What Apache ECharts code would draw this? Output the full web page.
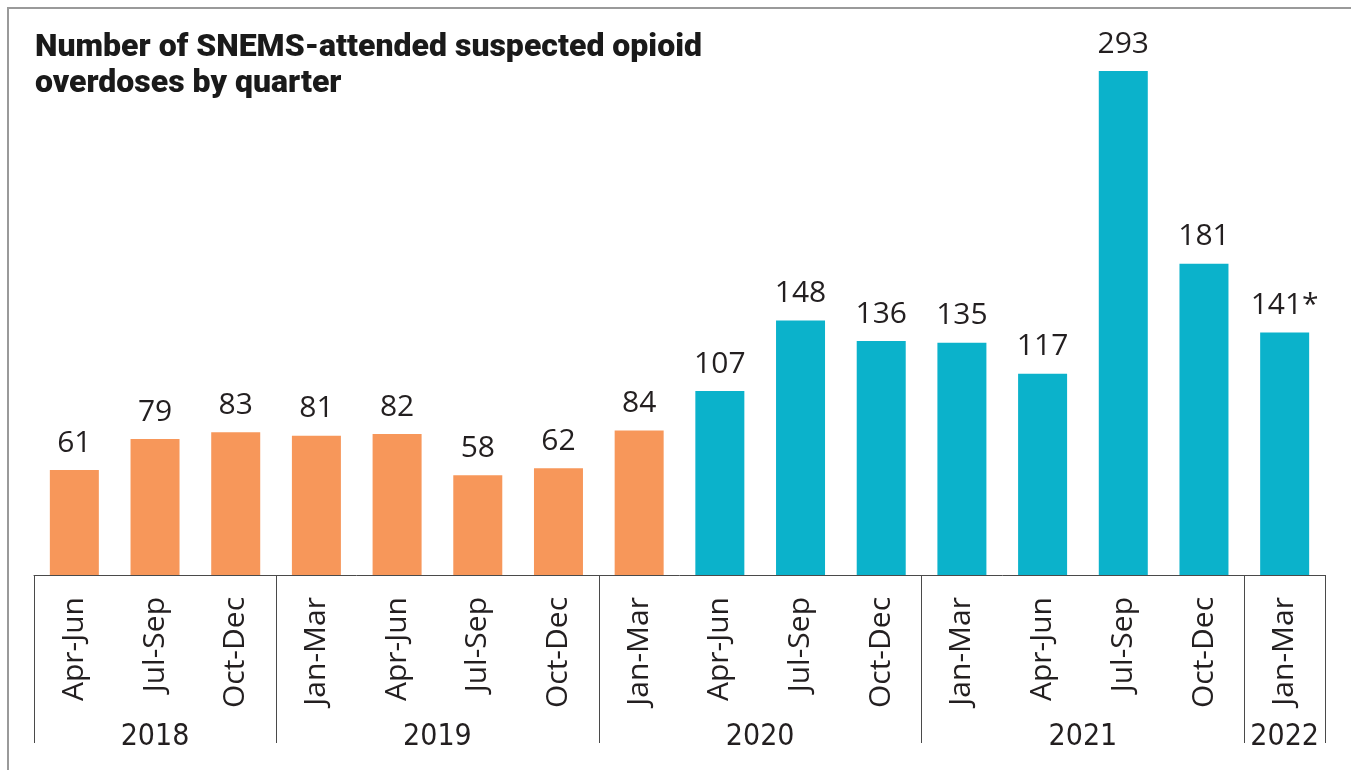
<!DOCTYPE html>
<html>
<head>
<meta charset="utf-8">
<title>SNEMS-attended suspected opioid overdoses</title>
<script src="https://cdn.jsdelivr.net/npm/echarts@6/dist/echarts.min.js"></script>
<style>
  html, body { margin: 0; padding: 0; background: #ffffff; }
  #chart { width: 1351px; height: 770px; }
</style>
</head>
<body>
<div id="chart"></div>
<script>
// Quarterly counts, April 2018 to March 2022
const quarters = ['Apr-Jun', 'Jul-Sep', 'Oct-Dec',
  'Jan-Mar', 'Apr-Jun', 'Jul-Sep', 'Oct-Dec',
  'Jan-Mar', 'Apr-Jun', 'Jul-Sep', 'Oct-Dec',
  'Jan-Mar', 'Apr-Jun', 'Jul-Sep', 'Oct-Dec',
  'Jan-Mar'];
const overdoses = [61, 79, 83, 81, 82, 58, 62, 84, 107, 148, 136, 135, 117, 293, 181, 141];
const valueNotes = ['', '', '', '', '', '', '', '', '', '', '', '', '', '', '', '*'];
// Quarters shown in the second colour (from Apr-Jun 2020 on)
const laterPeriodStart = 8;

// Year bands under the quarter labels: name and number of quarters in each
const years = ['2018', '2019', '2020', '2021', '2022'];
const quartersPerYear = [3, 4, 4, 4, 1];

const ORANGE = '#F7975A';
const TEAL = '#0BB2CB';
const TEXT = '#231F20';
const RULE = '#4a4a4a';

// Boundaries between year bands and the centre of each band, in quarter units
const yearEdges = [0];
quartersPerYear.forEach(n => yearEdges.push(yearEdges[yearEdges.length - 1] + n));
const yearCentres = years.map((y, i) => (yearEdges[i] + yearEdges[i + 1]) / 2);

const chart = echarts.init(document.getElementById('chart'));

chart.setOption({
  animation: false,
  backgroundColor: '#ffffff',
  title: {
    text: 'Number of SNEMS-attended suspected opioid\noverdoses by quarter',
    left: 30,
    top: 25,
    textStyle: {
      fontFamily: 'Roboto',
      fontWeight: 900,
      fontSize: 32,
      lineHeight: 36,
      color: '#1a1a1a'
    }
  },
  graphic: [{
    type: 'polyline',
    shape: { points: [[8, 770], [8, 8], [1351, 8]] },
    style: { stroke: '#9a9a9a', lineWidth: 2, fill: null },
    silent: true
  }],
  grid: { left: 34, right: 26, top: 59, bottom: 195 },
  xAxis: [{
    type: 'category',
    data: quarters,
    boundaryGap: true,
    axisLine: { show: true, lineStyle: { color: RULE, width: 1 } },
    axisTick: { show: false },
    axisLabel: {
      rotate: 90,
      margin: 22,
      fontFamily: 'Open Sans',
      fontSize: 30,
      color: TEXT,
      interval: 0
    }
  }, {
    type: 'value',
    min: 0,
    max: quarters.length,
    position: 'bottom',
    axisLine: { show: false },
    splitLine: { show: false },
    axisTick: {
      show: true,
      customValues: yearEdges,
      length: 168,
      lineStyle: { color: RULE, width: 1 }
    },
    axisLabel: {
      customValues: yearCentres,
      formatter: v => years[yearCentres.indexOf(v)],
      margin: 147,
      fontFamily: "'Liberation Sans Narrow', 'DejaVu Sans Condensed', sans-serif",
      fontSize: 30,
      color: TEXT
    }
  }],
  yAxis: {
    type: 'value',
    min: 0,
    max: 300,
    show: false
  },
  series: [{
    type: 'bar',
    xAxisIndex: 0,
    barWidth: 49,
    data: overdoses.map((v, i) => ({
      value: v,
      itemStyle: { color: i < laterPeriodStart ? ORANGE : TEAL }
    })),
    label: {
      show: true,
      position: 'top',
      distance: 12,
      fontFamily: 'Open Sans',
      fontSize: 30,
      color: TEXT,
      formatter: p => p.value + valueNotes[p.dataIndex]
    }
  }]
});
</script>
</body>
</html>
